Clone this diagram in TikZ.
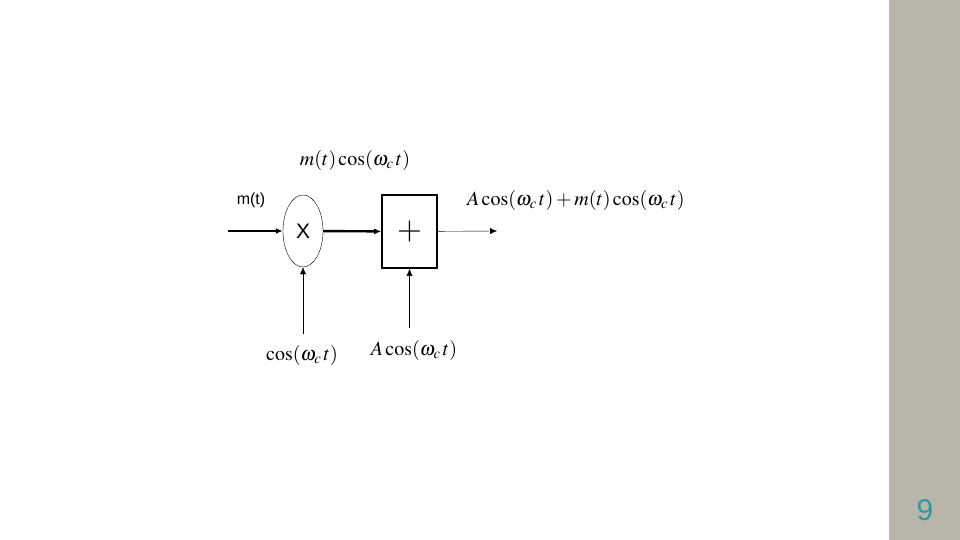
\documentclass[tikz,border=0pt]{standalone}
\usepackage{mathptmx}
\usepackage{fontspec}
\setsansfont{Liberation Sans}
\usepackage{tikz}
\usetikzlibrary{positioning,arrows.meta,shapes.geometric,calc}
\definecolor{panelgray}{HTML}{B9B5AA}
\definecolor{pageteal}{HTML}{2E9A9E}
\tikzset{
mult/.style={
draw,
ellipse,
minimum width=40pt,
minimum height=72pt,
inner sep=0pt,
font=\sffamily\fontsize{21}{21}\selectfont
},
adder/.style={
draw,
line width=1.6pt,
minimum width=55pt,
minimum height=73pt,
inner sep=0pt,
font=\fontsize{32}{32}\selectfont
},
sig/.style={
inner sep=0pt,
font=\fontsize{20}{22}\selectfont
},
heavyarrow/.style={
-{Latex[length=7pt,width=6pt]},
line width=2.4pt
},
arrow/.style={
-{Latex[length=7pt,width=6pt]},
thin
}
}
\begin{document}
\begin{tikzpicture}[x=1pt,y=-1pt]
\fill[white](0,0)rectangle(960,540);
\fill[panelgray](889,0)rectangle(960,540);
\node[mult](mul) at (303,231){X};
\node[adder](add) at (409.5,231.5){$+$};
\coordinate(in) at (228,231);
\coordinate(out) at (497,231);
\coordinate(carrier) at (303,334);
\coordinate(offset) at (409.5,328);

\node[sig,font=\sffamily\fontsize{16}{19}\selectfont](mlab) at (251,200){m(t)};
\node[sig](prod) at (355,160){$m(t)\cos(\omega_{c}\,t)$};
\node[sig,anchor=west](am) at (467,200){$A\cos(\omega_{c}\,t)+m(t)\cos(\omega_{c}\,t)$};
\node[sig](clab) at (302,355){$\cos(\omega_{c}\,t)$};
\node[sig](alab) at (414,350){$A\cos(\omega_{c}\,t)$};

\draw[heavyarrow](in)--(mul);
\draw[heavyarrow](mul)--(add);
\draw[arrow](add)--(out);
\draw[arrow](carrier)--(mul.south);
\draw[arrow](offset)--(add.south);

\node[text=pageteal,font=\sffamily\fontsize{30}{30}\selectfont](page) at (925,510){9};
\end{tikzpicture}
\end{document}
